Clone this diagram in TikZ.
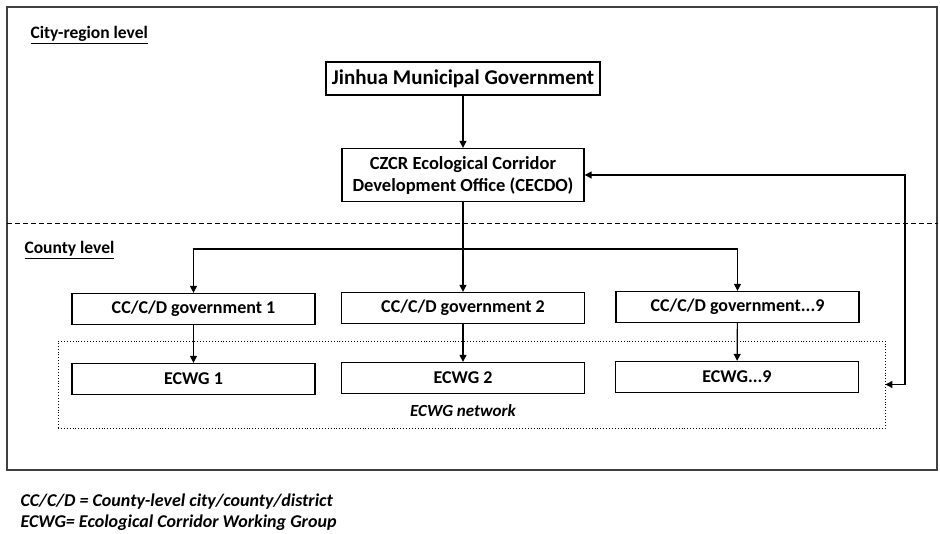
\documentclass[tikz,border=0pt]{standalone}
\usepackage{fontspec}
\setmainfont{Carlito}
\usetikzlibrary{arrows.meta}

\begin{document}
\begin{tikzpicture}[x=1pt,y=-1pt,
  box/.style={draw,line width=1.3pt,minimum width=243pt,minimum height=31pt,inner sep=1pt,
    font=\fontsize{18}{20}\selectfont\bfseries},
  link/.style={line width=1.2pt,-{Triangle[length=7pt,width=7pt]}},
  levellabel/.style={anchor=base west,font=\fontsize{17.5}{20}\selectfont\bfseries},
  keytext/.style={anchor=base west,font=\fontsize{18}{20}\selectfont\bfseries\itshape}]
  \useasboundingbox (0,0) rectangle (940,534);
  % frame and level split
  \draw[line width=1.5pt,black!75] (7,7) rectangle (937,470);
  \draw[dash pattern=on 5pt off 3pt,line width=0.9pt] (7,223) -- (938,223);
  \node[levellabel] (cityl) at (27,39) {\underline{City-region level}};
  \node[levellabel] (countyl) at (21,254) {\underline{County level}};
  % city-region level
  \node[box,minimum width=274pt,minimum height=33pt,font=\fontsize{21}{24}\selectfont\bfseries] (jinhua) at (463,78.5) {Jinhua Municipal Government};
  \node[box,minimum width=242pt,minimum height=53pt,align=center,font=\fontsize{18.5}{22}\selectfont\bfseries] (cecdo) at (463,175) {CZCR Ecological Corridor\\Development Office (CECDO)};
  % county level
  \node[draw,dotted,line width=0.9pt,minimum width=827pt,minimum height=87pt] (network) at (471.5,384.5) {};
  \node[font=\fontsize{17}{20}\selectfont\bfseries\itshape] (netlabel) at (463,411) {ECWG network};
  \node[box] (gov1) at (193.5,309) {CC/C/D government 1};
  \node[box] (gov2) at (463,308) {CC/C/D government 2};
  \node[box] (gov9) at (737.5,307) {CC/C/D government...9};
  \node[box] (ecwg1) at (193.5,379) {ECWG 1};
  \node[box] (ecwg2) at (463,378) {ECWG 2};
  \node[box] (ecwg9) at (737,377) {ECWG...9};
  \coordinate (split) at (463,249);
  \coordinate (turn) at (905,384.5);
  % connectors
  \draw[link] (jinhua) -- (cecdo);
  \draw[link] (cecdo) -- (gov2);
  \draw[link] (split) -| (gov1.north);
  \draw[link] (split) -| (gov9.north);
  \draw[link] (gov1) -- (ecwg1);
  \draw[link] (gov2) -- (ecwg2);
  \draw[link] (gov9) -- (ecwg9);
  \draw[link,{Triangle[length=7pt,width=7pt]}-{Triangle[length=7pt,width=7pt]}] (network.east) -- (turn) |- (cecdo.east);
  % key
  \node[keytext] (key1) at (17,506) {CC/C/D = County-level city/county/district};
  \node[keytext] (key2) at (17,527) {ECWG= Ecological Corridor Working Group};
\end{tikzpicture}
\end{document}
